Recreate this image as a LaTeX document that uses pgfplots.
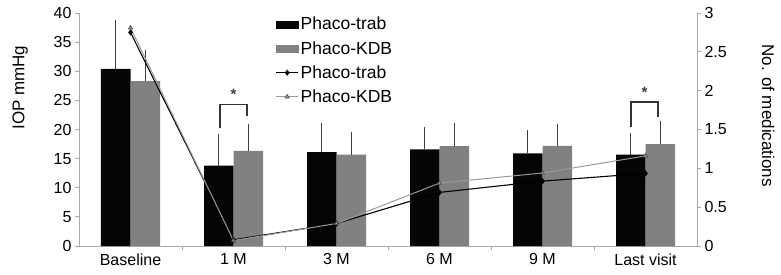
\documentclass[border=0pt]{standalone}
\usepackage{pgfplots}
\pgfplotsset{compat=1.18}
\usepackage{fontspec}
\setmainfont{Liberation Sans}
\definecolor{barblack}{HTML}{050505}
\definecolor{bargray}{HTML}{818181}
\definecolor{axgray}{HTML}{A8A8A8}
\definecolor{linegray}{HTML}{9A9A9A}
\definecolor{errgray}{HTML}{404040}
\pgfplotsset{
  linelegend/.style={legend image code/.code={\draw[mark repeat=2, mark phase=2, ##1] plot coordinates {(0pt,0pt) (11pt,0pt) (22pt,0pt)};}},
  blackbox/.style={legend image code/.code={\fill[barblack] (0pt,-3.5pt) rectangle (22pt,3.5pt);}},
  graybox/.style={legend image code/.code={\fill[bargray] (0pt,-3.5pt) rectangle (22pt,3.5pt);}},
}
\begin{document}
\begin{tikzpicture}
\pgfplotsset{
  every axis/.append style={
    scale only axis, width=618pt, height=233pt,
    xmin=-0.5, xmax=5.5,
    /pgf/number format/assume math mode=true,
    tick label style={font=\fontsize{16}{19}\selectfont},
    axis line style={axgray, line width=0.8pt},
    tick align=outside,
    major tick length=4pt, minor tick length=4pt,
    tick style={axgray, line width=0.8pt},
  }
}
\begin{axis}[
  ybar=0pt, bar width=29.5pt,
  ymin=0, ymax=40, ytick={0,5,...,40},
  axis x line*=bottom, axis y line*=left,
  xtick={0,...,5}, xticklabels={Baseline,1 M,3 M,6 M,9 M,Last visit},
  major x tick style={draw=none},
  minor xtick={0.5,1.5,2.5,3.5,4.5},
  ylabel={IOP mmHg},
  every axis y label/.style={at={(axis description cs:-0.095,0.68)}, rotate=90, anchor=center, font=\fontsize{17}{20}\selectfont},
]
\addplot[fill=barblack, draw=none,
  error bars/.cd, y dir=plus, y explicit,
  error bar style={errgray, line width=0.9pt},
  error mark options={errgray, line width=0.9pt, mark size=3pt}]
  coordinates {(0,30.4) +- (0,7.8) (1,13.8) +- (0,4.95) (2,16.1) +- (0,4.5)
               (3,16.6) +- (0,3.4) (4,15.9) +- (0,3.5) (5,15.7) +- (0,3.2)};
\addplot[fill=bargray, draw=none,
  error bars/.cd, y dir=plus, y explicit,
  error bar style={errgray, line width=0.9pt},
  error mark options={errgray, line width=0.9pt, mark size=3pt}]
  coordinates {(0,28.3) +- (0,4.9) (1,16.35) +- (0,4.15) (2,15.7) +- (0,3.3)
               (3,17.15) +- (0,3.45) (4,17.2) +- (0,3.3) (5,17.5) +- (0,3.5)};
% significance brackets
\addplot[sharp plot, draw=black!80, fill=none, line width=1.4pt, mark=none, forget plot]
  coordinates {(0.87,20.2) (0.87,24.3) (1.13,24.3) (1.13,22.3)};
\addplot[sharp plot, draw=black!80, fill=none, line width=1.4pt, mark=none, forget plot]
  coordinates {(4.86,20.5) (4.86,24.75) (5.12,24.75) (5.12,22.2)};
\node[font=\fontsize{15}{17}\selectfont\bfseries, text=black!75] at (axis cs:1,26.0) {*};
\node[font=\fontsize{15}{17}\selectfont\bfseries, text=black!75] at (axis cs:4.99,26.3) {*};
\end{axis}
\begin{axis}[
  ymin=0, ymax=3, ytick={0,0.5,...,3},
  axis y line*=right, axis x line=none,
  ylabel={No. of medications},
  every axis y label/.style={at={(axis description cs:1.115,0.56)}, rotate=-90, anchor=center, font=\fontsize{17}{20}\selectfont},
  legend style={at={(axis description cs:0.313,1.0)}, anchor=north west, draw=none, fill=none,
    font=\fontsize{17.5}{20}\selectfont, row sep=6pt},
  legend cell align=left,
]
\addlegendimage{blackbox}
\addlegendentry{Phaco-trab}
\addlegendimage{graybox}
\addlegendentry{Phaco-KDB}
\addplot[black, line width=1.1pt, mark=diamond*, mark size=2.2pt, mark options={solid, fill=black}, linelegend]
  coordinates {(0,2.75) (1,0.08) (2,0.29) (3,0.69) (4,0.835) (5,0.935)};
\addlegendentry{Phaco-trab}
\addplot[linegray, line width=1pt, mark=triangle*, mark size=2.4pt, mark options={solid, fill=linegray, draw=black!70, line width=0.6pt}, linelegend]
  coordinates {(0,2.81) (1,0.07) (2,0.29) (3,0.81) (4,0.94) (5,1.16)};
\addlegendentry{Phaco-KDB}
\end{axis}
\pgfresetboundingbox
\path (-79pt,-28pt) rectangle (702pt,246pt);
\end{tikzpicture}
\end{document}
